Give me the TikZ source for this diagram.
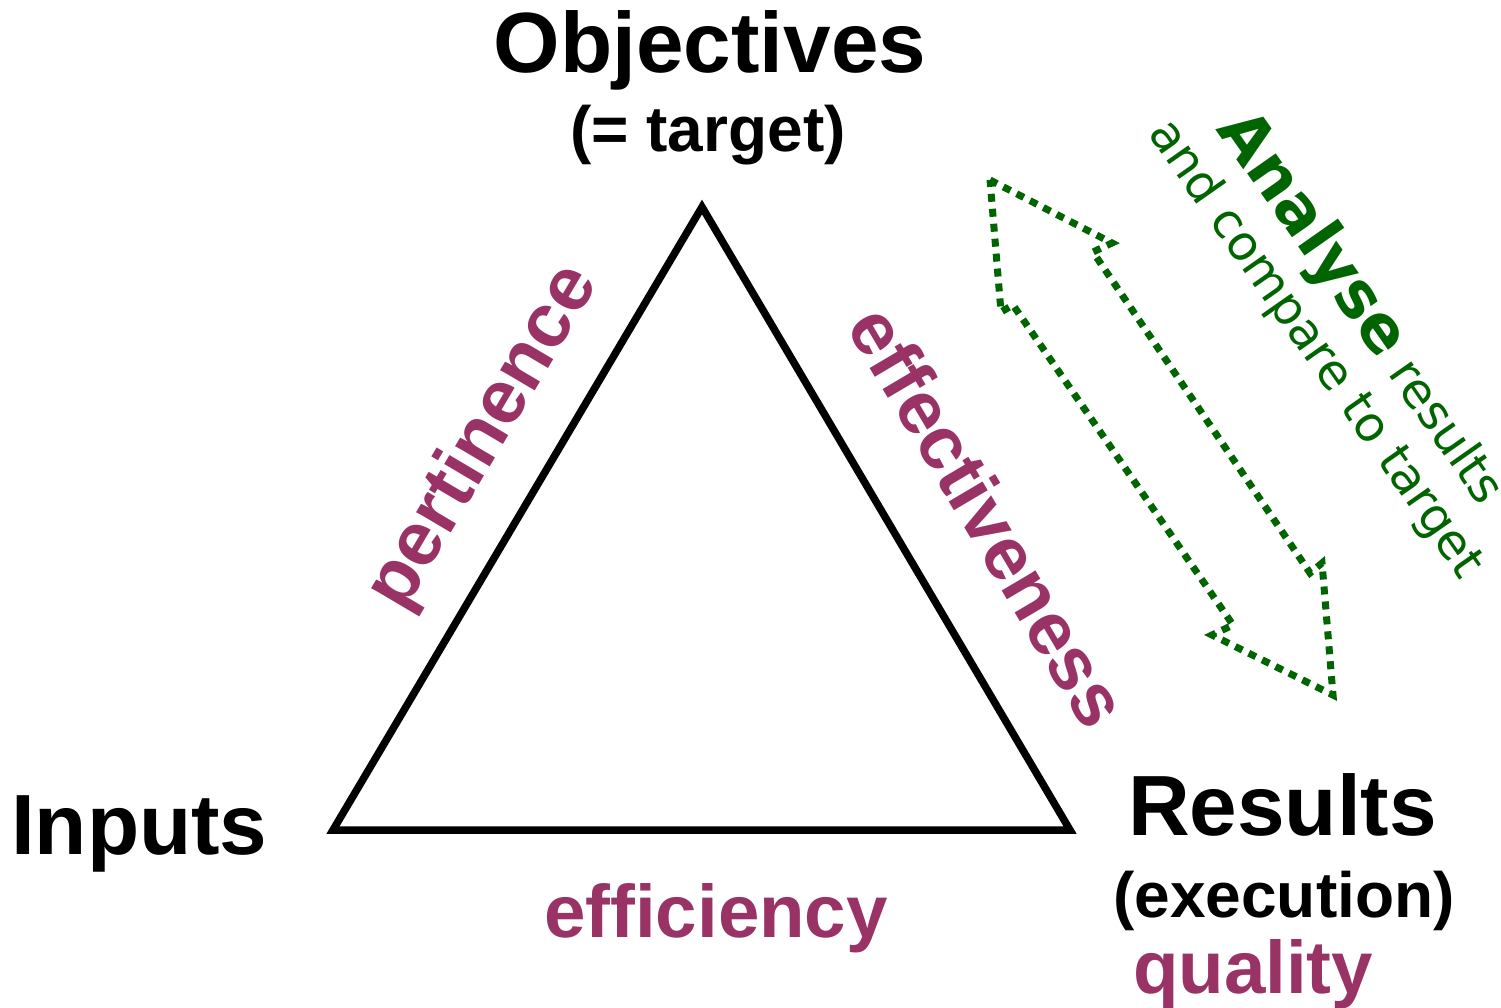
\documentclass[tikz,border=0pt]{standalone}
\usepackage{fontspec}
\setmainfont{Liberation Sans}
\newfontfamily\dejavu{DejaVu Sans}
\definecolor{berry}{HTML}{993366}
\definecolor{dgreen}{HTML}{006400}
\tikzset{
  lbl/.style={inner sep=0pt, outer sep=0pt, anchor=base, font=\bfseries},
  big/.style={lbl, font=\bfseries\fontsize{85.5}{90}\selectfont},
  sub/.style={lbl, font=\bfseries\fontsize{64}{70}\selectfont},
  crit/.style={lbl, text=berry, font=\bfseries\fontsize{74.5}{80}\selectfont},
  note/.style={inner sep=0pt, outer sep=0pt, anchor=base, text=dgreen, rotate=-55, font=\dejavu\fontsize{48.5}{54}\selectfont},
  tri/.style={line width=7.5pt, line join=miter},
  dotarrow/.style={draw=dgreen, line width=7pt, dash pattern=on 8pt off 7pt, line join=miter}
}
\begin{document}
\begin{tikzpicture}[x=1pt,y=-1pt]
\useasboundingbox (0,0) rectangle (1501,1008);
% triangle
\coordinate (A) at (333,830);
\coordinate (B) at (702,207);
\coordinate (C) at (1070,830);
\draw[tri] (A) -- (B) -- (C) -- cycle;
% labels
\node[big] (obj) at (710,73) {Objectives};
\node[sub] (objsub) at (708,152) {(= target)};
\node[big, anchor=base west] (inp) at (11,854) {Inputs};
\node[big, anchor=base west] (res) at (1128,835) {Results};
\node[sub] (ressub) at (1284,917) {(execution)};
\node[crit, anchor=base west] (qual) at (1133,993) {quality};
\node[crit] (eff) at (716,937) {efficiency};
\node[crit, rotate=59.4, font=\bfseries\fontsize{76}{80}\selectfont] (pert) at (501,448) {pertinence};
\node[crit, rotate=-59.4] (effect) at (966,530) {effectiveness};
% green notes
\node[note] (ana) at (1348,318) {{\bfseries\fontsize{64}{70}\selectfont Analyse} results};
\node[note] (cmp) at (1304,357) {and compare to target};
% double block arrow (dotted outline)
\draw[dotarrow] (990,180) -- (1112,243) -- (1093,252) -- (1310,573) -- (1322,563)
  -- (1333,695) -- (1212,635) -- (1233,625) -- (1013,305) -- (1001,312) -- cycle;
\end{tikzpicture}
\end{document}
